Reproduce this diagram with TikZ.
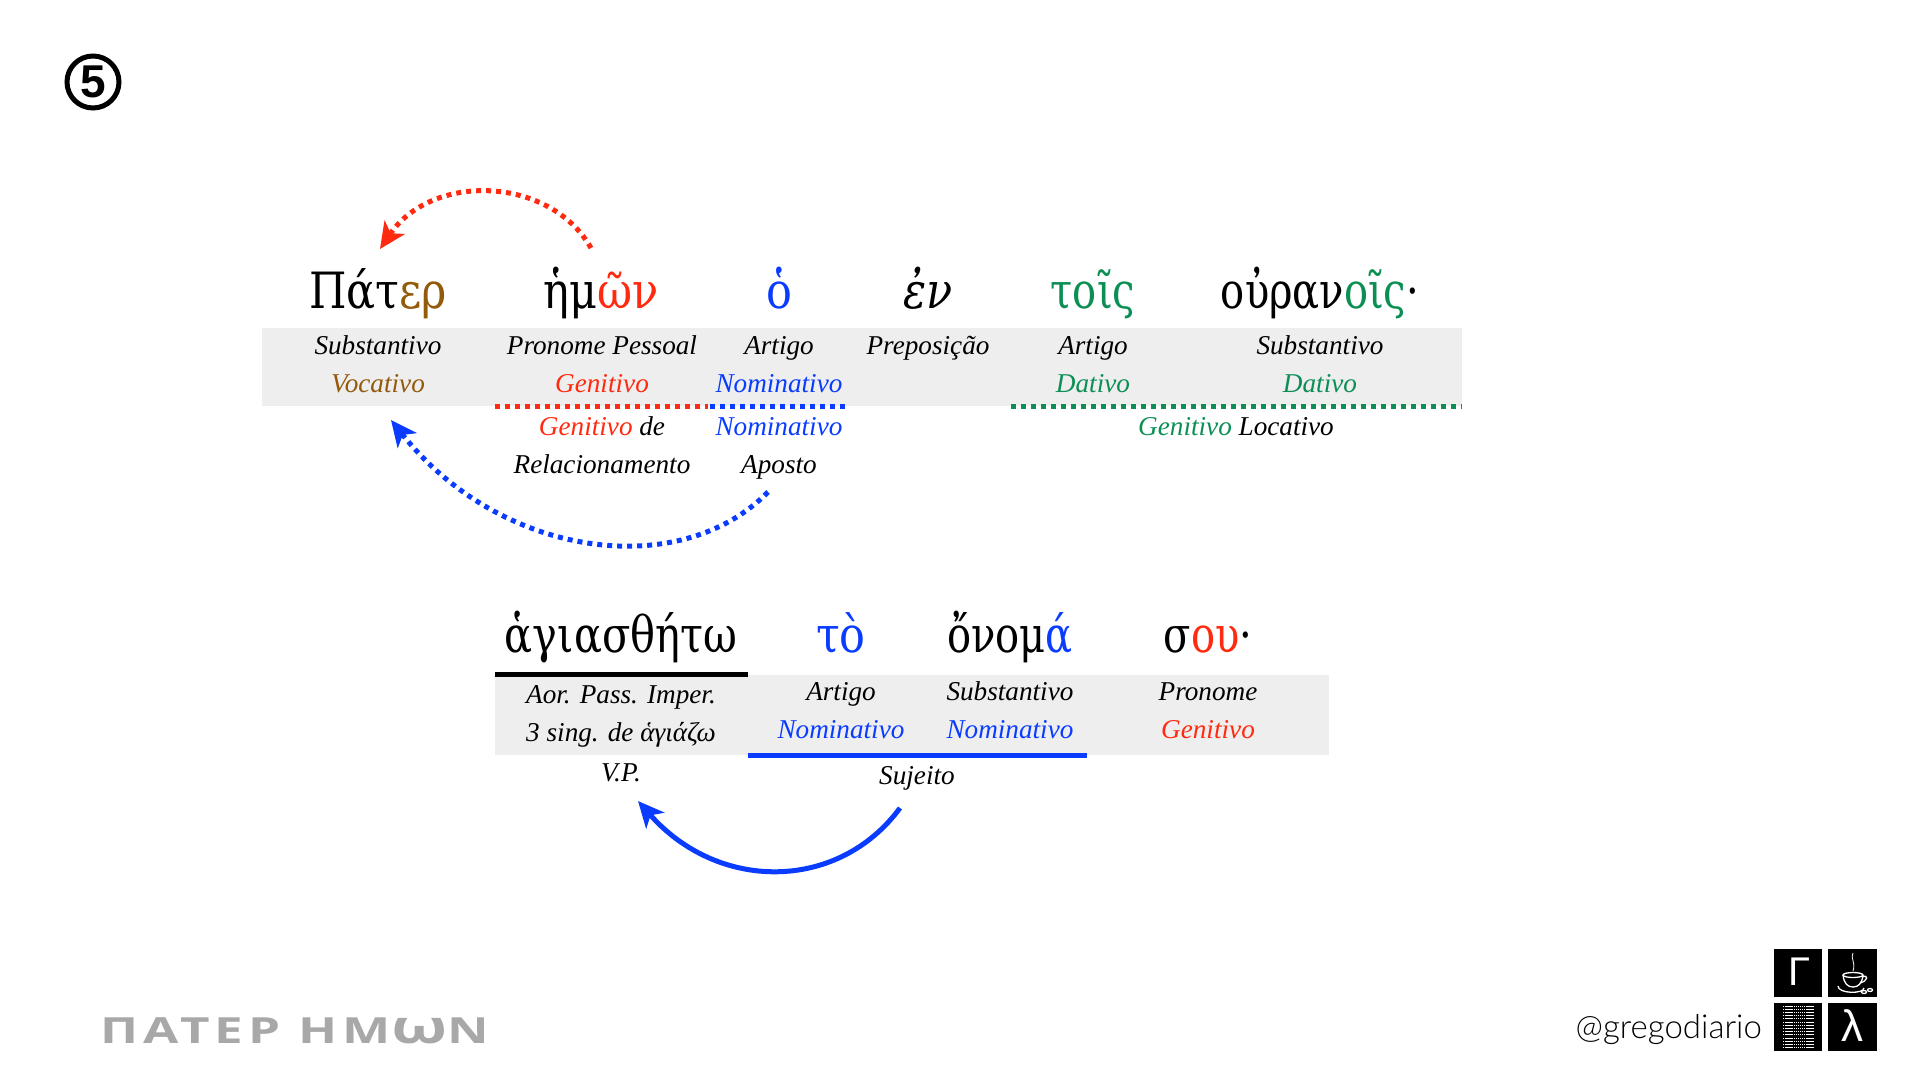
\documentclass[tikz,border=0pt]{standalone}
\usepackage{fontspec}
\setmainfont{Liberation Serif}
\newfontfamily\sansf{Liberation Sans}
\newfontfamily\grk[FakeStretch=0.86]{DejaVu Serif}
\newfontfamily\grkn[FakeStretch=0.80]{DejaVu Serif}
\newfontfamily\grkm[FakeStretch=0.83]{DejaVu Serif}
\newfontfamily\thinf[UprightFont=* Light]{Lato}
\newfontfamily\uncf[LetterSpace=14,FakeStretch=1.42]{Open Sans}
\usetikzlibrary{arrows.meta}
\definecolor{cred}{HTML}{FF2A0F}
\definecolor{cblue}{HTML}{0A3CFF}
\definecolor{cgreen}{HTML}{0B8F55}
\definecolor{cbrown}{HTML}{945A0B}
\definecolor{cband}{HTML}{EEEEEE}
\definecolor{cgrey}{HTML}{A8A8A8}
\tikzset{
  word/.style={anchor=base,inner sep=0pt,font=\fontsize{50}{60}\selectfont\grk},
  wordn/.style={anchor=base,inner sep=0pt,font=\fontsize{50}{60}\selectfont\grkn},
  wordm/.style={anchor=base,inner sep=0pt,font=\fontsize{50}{60}\selectfont\grkm},
  lab/.style={anchor=base,inner sep=0pt,font=\fontsize{27.2}{30}\selectfont\itshape},
  band/.style={fill=cband,draw=none},
  dotrule/.style={line width=5pt,dash pattern=on 5pt off 5pt},
  solidrule/.style={line width=5pt},
  dotarrow/.style={line width=5pt,dash pattern=on 5pt off 5pt,-{Stealth[length=26pt,width=24pt,inset=7pt]}},
  solidarrow/.style={line width=5pt,-{Stealth[length=26pt,width=24pt,inset=7pt]}},
  tile/.style={fill=black,draw=none},
  cupline/.style={draw=white,line width=1.3pt}
}
\begin{document}
\begin{tikzpicture}[x=1pt,y=-1pt]
\useasboundingbox (0,0) rectangle (1920,1080);
% bands
\fill[band] (262,328) rectangle (1462,406);
\fill[band] (495,675) rectangle (1329,755);
% number
\node[draw=black,circle,line width=5pt,minimum size=52pt,inner sep=0pt,font=\fontsize{46}{50}\selectfont\sansf\bfseries] (num) at (93,82) {5};
% row 1 words
\node[word] (w1) at (378,308) {Πάτ\textcolor{cbrown}{ερ}};
\node[word] (w2) at (601,308) {ἡμ\textcolor{cred}{ῶν}};
\node[word,text=cblue] (w3) at (779,308) {ὁ};
\node[word] (w4) at (928,308) {\itshape ἐν};
\node[wordn,text=cgreen] (w5) at (1093,308) {τοῖς};
\node[wordn] (w6) at (1320,308) {οὐραν\textcolor{cgreen}{οῖς}·};
% row 1 labels
\node[lab] (a1) at (378,354) {Substantivo};
\node[lab,text=cbrown] (b1) at (378,392) {Vocativo};
\node[lab] (a2) at (602,354) {Pronome Pessoal};
\node[lab,text=cred] (b2) at (602,392) {Genitivo};
\node[lab] (a3) at (779,354) {Artigo};
\node[lab,text=cblue] (b3) at (779,392) {Nominativo};
\node[lab] (a4) at (928,354) {Preposição};
\node[lab] (a5) at (1093,354) {Artigo};
\node[lab,text=cgreen] (b5) at (1093,392) {Dativo};
\node[lab] (a6) at (1320,354) {Substantivo};
\node[lab,text=cgreen] (b6) at (1320,392) {Dativo};
\node[lab] (c2) at (602,435) {\textcolor{cred}{Genitivo} de};
\node[lab] (d2) at (602,473) {Relacionamento};
\node[lab,text=cblue] (c3) at (779,435) {Nominativo};
\node[lab] (d3) at (779,473) {Aposto};
\node[lab] (c5) at (1236,435) {\textcolor{cgreen}{Genitivo} Locativo};
% rules row 1
\draw[dotrule,cred] (495,406) -- (708,406);
\draw[dotrule,cblue] (710,406) -- (846,406);
\draw[dotrule,cgreen] (1011,406) -- (1462,406);
% arrows row 1
\coordinate (rs) at (591,248);
\coordinate (re) at (380,249);
\coordinate (bs) at (768,492);
\coordinate (be) at (391,420);
\draw[dotarrow,cred] (rs) .. controls (550,176) and (432,172) .. (re);
\draw[dotarrow,cblue] (bs) .. controls (680,582) and (500,558) .. (be);
% row 2 words
\node[wordm] (x1) at (621,652) {ἁγιασθήτω};
\node[word,text=cblue] (x2) at (841,652) {τὸ};
\node[wordn] (x3) at (1010,652) {ὄνομ\textcolor{cblue}{ά}};
\node[wordn] (x4) at (1208,652) {σ\textcolor{cred}{ου}·};
% row 2 labels
\node[lab] (e1) at (621,703) {Aor. Pass. Imper.};
\node[lab] (f1) at (621,741) {3 sing. de ἁγιάζω};
\node[lab] (g1) at (621,781) {V.P.};
\node[lab] (e2) at (841,700) {Artigo};
\node[lab,text=cblue] (f2) at (841,738) {Nominativo};
\node[lab] (e3) at (1010,700) {Substantivo};
\node[lab,text=cblue] (f3) at (1010,738) {Nominativo};
\node[lab] (e4) at (1208,700) {Pronome};
\node[lab,text=cred] (f4) at (1208,738) {Genitivo};
\node[lab] (g2) at (917,784) {Sujeito};
% rules row 2
\draw[solidrule,black] (495,674) -- (748,674);
\draw[solidrule,cblue] (748,755) -- (1087,755);
% arrow row 2
\coordinate (ss) at (900,808);
\coordinate (se) at (638,801);
\draw[solidarrow,cblue] (ss) .. controls (838,892) and (718,892) .. (se);
% bottom left
\node[anchor=base west,inner sep=0pt,text=cgrey,font=\fontsize{36}{40}\selectfont\uncf\bfseries] (title) at (100,1043) {ΠΑΤΕΡ ΗΜ{\fontsize{46}{50}\selectfont ω}Ν};
% handle
\node[anchor=base east,inner sep=0pt,font=\fontsize{33}{36}\selectfont\thinf] (handle) at (1762,1038) {@gregodiario};
% tiles
\fill[tile] (1774,949) rectangle (1822,997);
\fill[tile] (1828,949) rectangle (1877,997);
\fill[tile] (1774,1003) rectangle (1822,1051);
\fill[tile] (1828,1003) rectangle (1877,1051);
\node[text=white,inner sep=0pt,font=\fontsize{40}{44}\selectfont\sansf] (gamma) at (1799,972) {Γ};
\node[text=white,inner sep=0pt,font=\fontsize{44}{44}\selectfont\sansf] (lambda) at (1852,1026) {λ};
% cup
\draw[cupline] (1853,975) ellipse (10pt and 2.5pt);
\draw[cupline] (1843,975) .. controls (1844,984) and (1848,987) .. (1853,987) .. controls (1858,987) and (1862,984) .. (1863,975);
\draw[cupline] (1862,977) .. controls (1869,974) and (1868,981) .. (1860,983);
\draw[cupline] (1838,986) .. controls (1838,994) and (1864,994) .. (1864,988);
\draw[draw=white,line width=.8pt] (1853,953) .. controls (1850,958) and (1856,962) .. (1853,971);
\draw[cupline] (1864,992) ellipse (2.5pt and 1.5pt);
\draw[cupline] (1870,990) ellipse (2.5pt and 1.5pt);
% text block tile
\foreach \yy in {1006,1009.2,...,1050}{
  \draw[white,line width=1pt,dash pattern=on 1.4pt off .7pt] (1783,\yy) -- (1814,\yy);
}
\end{tikzpicture}
\end{document}
